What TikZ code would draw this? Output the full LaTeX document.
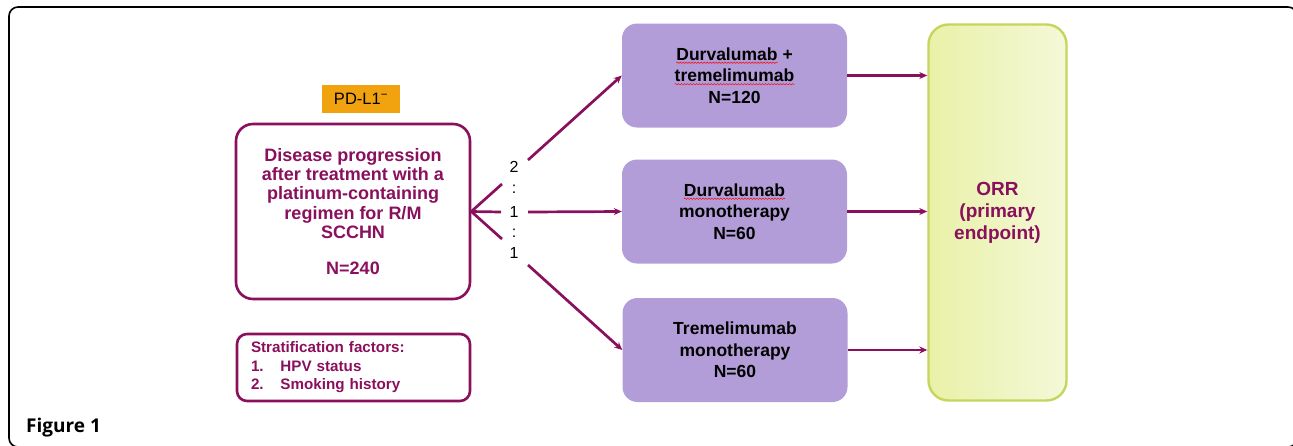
\documentclass[tikz,border=0pt]{standalone}
\usepackage{fontspec}
\setmainfont{Liberation Sans}
\newfontfamily\captionfont{Open Sans}
\usetikzlibrary{arrows.meta,decorations.pathmorphing}

\definecolor{plum}{HTML}{8A0F5C}
\definecolor{lilac}{HTML}{B39DD8}
\definecolor{amber}{HTML}{F0A30F}
\definecolor{limeedge}{HTML}{C6D65C}
\definecolor{limeleft}{HTML}{E9F1A8}
\definecolor{limeright}{HTML}{F4F8D8}

% red spell-check squiggle under a word
\newcommand{\wavy}[1]{\tikz[baseline=(w.base),sharp corners]{\node[inner sep=0pt,outer sep=0pt,minimum width=0pt,minimum height=0pt,fill=none,draw=none] (w) {#1};
  \draw[red,line width=0.5pt,sharp corners,decorate,decoration={snake,amplitude=0.7pt,segment length=3pt}] ([yshift=-2.5pt]w.base west) -- ([yshift=-2.5pt]w.base east);}}

\begin{document}
\begin{tikzpicture}[x=1pt,y=-1pt,
    txt/.style={font=\bfseries\fontsize{18}{19.2}\selectfont,align=center},
    armbox/.style={font=\bfseries\fontsize{17.5}{21.5}\selectfont,align=center,fill=lilac,rounded corners=15pt,minimum width=225pt,minimum height=104pt,inner sep=0pt},
    plumbox/.style={txt,draw=plum,line width=2.6pt,rounded corners=17pt,text=plum,inner sep=0pt},
    plumline/.style={draw=plum,line width=2.7pt},
    plumarrow/.style={plumline,-{Stealth[length=8pt,width=7pt]}},
    ratio/.style={font=\fontsize{16}{16}\selectfont,inner sep=0pt}]
  \clip (0,0) rectangle (1293,445);
  \useasboundingbox (0,0) rectangle (1293,445);
  \draw[line width=1.6pt,rounded corners=9pt] (9,7) rectangle (1297,447); % outer frame

  % left side
  \node[fill=amber,minimum width=78pt,minimum height=28pt,inner sep=0pt,font=\fontsize{16.5}{16}\selectfont] (pdl) at (361,99) {PD-L1\textsuperscript{\char"2212}};
  \node[plumbox,minimum width=234pt,minimum height=175pt] (main) at (353,211.5)
    {Disease progression\\after treatment with a\\platinum-containing\\regimen for R/M\\SCCHN\\[17pt]N=240};
  \node[plumbox,rounded corners=10pt,minimum width=233pt,minimum height=67pt,align=left,text width=205pt,font=\bfseries\fontsize{15.2}{18.5}\selectfont] (strat) at (353.5,367.5)
    {Stratification factors:\\1.\hspace{1.1em}HPV status\\2.\hspace{1.1em}Smoking history};

  % randomisation
  \node[ratio] (r2) at (514,167) {2};
  \node[ratio] (c1) at (514,189) {:};
  \node[ratio] (r1) at (514,212) {1};
  \node[ratio] (c2) at (514,233) {:};
  \node[ratio] (r3) at (514,253) {1};
  \coordinate (fu) at (502,184);
  \coordinate (fm) at (501,212);
  \coordinate (fl) at (502,239);
  \coordinate (su) at (528,160);
  \coordinate (sm) at (528,212);
  \coordinate (sl) at (528,265);

  % treatment arms
  \node[armbox] (dt) at (734.5,75.5) {\wavy{Durvalumab} +\\\wavy{tremelimumab}\\N=120};
  \node[armbox] (dm) at (734.5,211.5) {\wavy{Durvalumab}\\monotherapy\\N=60};
  \node[armbox] (tm) at (735,350) {Tremelimumab\\monotherapy\\N=60};
  \node[font=\bfseries\fontsize{19}{22}\selectfont,align=center,text=plum,draw=limeedge,line width=2.4pt,left color=limeleft,right color=limeright,
    rounded corners=20pt,minimum width=138pt,minimum height=376pt,inner sep=0pt] (orr) at (997.5,212.5)
    {ORR\\(primary\\endpoint)};

  % connectors
  \draw[plumline] (fu) -- (main.east) -- (fl);
  \draw[plumline] (main.east) -- (fm);
  \draw[plumarrow] (su) -- (dt.west);
  \draw[plumarrow] (sm) -- (dm.west);
  \draw[plumarrow] (sl) -- (tm.west);
  \draw[plumarrow] (dt.east) -- (orr.west |- dt.east);
  \draw[plumarrow] (dm.east) -- (orr.west |- dm.east);
  \draw[plumarrow] (tm.east) -- (orr.west |- tm.east);

  \node[anchor=base west,inner sep=0pt,font=\captionfont\bfseries\fontsize{19}{19}\selectfont] (fig) at (26,432) {Figure 1};
\end{tikzpicture}
\end{document}
